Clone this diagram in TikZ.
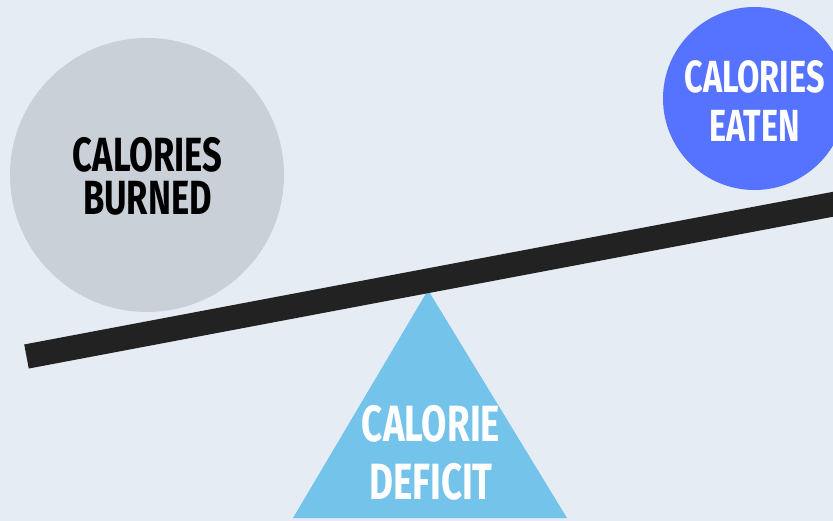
\documentclass[tikz,border=0pt]{standalone}
\usepackage{fontspec}
\newfontfamily\labelfont[FakeStretch=0.72]{Fira Sans}
\usetikzlibrary{shapes}
\definecolor{bg}{HTML}{E6ECF4}
\definecolor{burnedgray}{HTML}{C9D0D8}
\definecolor{eatenblue}{HTML}{5573FF}
\definecolor{beamblack}{HTML}{222222}
\definecolor{deficitblue}{HTML}{74C3EA}
\begin{document}
\begin{tikzpicture}[x=1pt, y=-1pt,
    ball/.style={circle, inner sep=0pt, outer sep=0pt},
    lbl/.style 2 args={font=\labelfont\bfseries\fontsize{#1}{#2}\selectfont, align=center, inner sep=0pt}]
  \fill[bg] (0,0) rectangle (833,521);
  \useasboundingbox (0,0) rectangle (833,521);
  % Gewichte
  \node[ball, fill=burnedgray, minimum size=274pt] (burned) at (147,175) {};
  \node[ball, fill=eatenblue, minimum size=183pt] (eaten) at (754.5,98.5) {};
  % Dreieck
  \coordinate (apex) at (428,290);
  \coordinate (baseL) at (293,518);
  \coordinate (baseR) at (567,518);
  \fill[deficitblue] (apex) -- (baseL) -- (baseR) -- cycle;
  % Balken
  \coordinate (beamL) at (26.5,356.5);
  \coordinate (beamR) at (845,202);
  \draw[beamblack, line width=24.5pt] (beamL) -- (beamR);
  % Texte
  \node[lbl={48}{43}, text=black] (burnedtext) at (147.5,176.5) {CALORIES\\BURNED};
  \node[lbl={45}{49}, text=white] (eatentext) at (754.5,101.5) {CALORIES\\EATEN};
  \node[lbl={51}{58}, text=white] (deficittext) at (431,452.5) {CALORIE\\DEFICIT};
\end{tikzpicture}
\end{document}
